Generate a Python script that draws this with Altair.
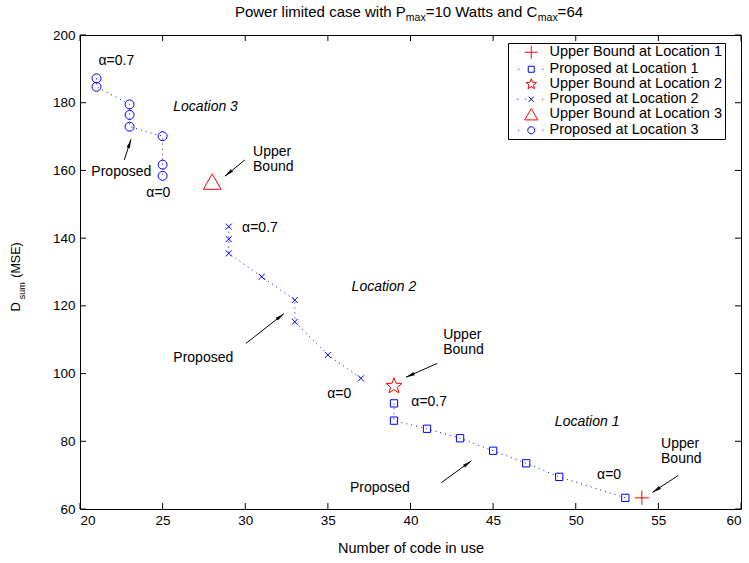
import altair as alt
import pandas as pd
import numpy as np

# ---------------- data ----------------
SERIES = ["Upper Bound at Location 1", "Proposed at Location 1",
          "Upper Bound at Location 2", "Proposed at Location 2",
          "Upper Bound at Location 3", "Proposed at Location 3"]
SERIES_COLORS = ["#ff0000", "#0000ff", "#ff0000", "#0000ff", "#ff0000", "#0000ff"]

ub1_x = [54]
ub1_y = [63.3]
p1_x = [39, 39, 41, 43, 45, 47, 49, 53]
p1_y = [91.2, 86.1, 83.7, 80.9, 77.2, 73.5, 69.5, 63.3]

ub2_x = [39]
ub2_y = [96.3]
p2_x = [29, 29, 29, 31, 33, 33, 35, 37]
p2_y = [143.4, 139.7, 135.5, 128.6, 121.7, 115.3, 105.5, 98.6]

ub3_x = [28]
ub3_y = [156.7]
p3_x = [21, 21, 23, 23, 23, 25, 25, 25]
p3_y = [187.2, 184.7, 179.5, 176.4, 172.9, 170.1, 161.7, 158.4]

x_ticks = [20, 25, 30, 35, 40, 45, 50, 55, 60]
y_ticks = [60, 80, 100, 120, 140, 160, 180, 200]

# annotations
note_text = ["α=0.7", "α=0", "Proposed", "α=0.7", "α=0", "Proposed", "α=0.7", "α=0", "Proposed"]
note_x = [22.2, 24.74, 22.5, 30.89, 35.69, 27.46, 41.13, 52.02, 38.15]
note_y = [192.4, 153.4, 159.6, 143.1, 93.9, 104.7, 91.7, 70.0, 66.1]

loc_text = ["Location 1", "Location 2", "Location 3"]
loc_x = [50.69, 38.39, 27.6]
loc_y = [85.8, 125.5, 178.8]

ub_text = ["Upper\nBound", "Upper\nBound", "Upper\nBound"]
ub_tx = [55.16, 41.98, 30.47]
ub_ty = [81.2, 113.5, 167.4]

arr_x0 = [22.68, 29.98, 30.04, 41.62, 41.87, 56.2]
arr_y0 = [163.1, 163.1, 108.9, 103.0, 67.8, 69.9]
arr_x1 = [23.09, 28.77, 32.34, 39.72, 43.68, 54.64]
arr_y1 = [169.2, 158.3, 117.7, 98.9, 74.2, 64.9]

# ---------------- layout ----------------
W, H = 661, 474
XD, YD = [20, 60], [60, 200]
FONT = "Liberation Sans"


def X(f):
    return alt.X(f"{f}:Q", scale=alt.Scale(domain=XD, nice=False, zero=False),
                 axis=alt.Axis(values=x_ticks, title="Number of code in use"))


def Y(f):
    return alt.Y(f"{f}:Q", scale=alt.Scale(domain=YD, nice=False, zero=False),
                 axis=alt.Axis(values=y_ticks, title=None))


def circ(r):
    return f"M{r},0A{r},{r},0,1,1,{-r},0A{r},{r},0,1,1,{r},0Z"


def star(R, r):
    pts = []
    for k in range(10):
        a = np.deg2rad(-90 + 36 * k)
        rad = R if k % 2 == 0 else r
        pts.append(f"{rad*np.cos(a):.3f},{rad*np.sin(a):.3f}")
    return "M" + "L".join(pts) + "Z"


def dots(positions):
    return "".join(f"M{p:.2f},0L{p+0.15:.2f},0" for p in positions)


PLUS = "M-1,0L1,0M0,-1L0,1"
XMARK = "M-1,-1L1,1M-1,1L1,-1"
TRI = "M0,-0.87L1,0.87L-1,0.87Z"

# legend shapes (fixed legend symbol size 169 -> 13 px box, unit = 6.5 px)
u = 6.5
LEG_SHAPES = [
    PLUS,
    f"M{-3/u:.3f},{-3/u:.3f}L{3/u:.3f},{-3/u:.3f}L{3/u:.3f},{3/u:.3f}L{-3/u:.3f},{3/u:.3f}Z" + dots([-13/u, 11/u]),
    star(0.85, 0.36),
    f"M{-2.5/u:.3f},{-2.5/u:.3f}L{2.5/u:.3f},{2.5/u:.3f}M{-2.5/u:.3f},{2.5/u:.3f}L{2.5/u:.3f},{-2.5/u:.3f}" + dots([-14/u, -6/u, 11/u]),
    "M0,-0.87L1,0.87L-1,0.87Z",
    circ(round(3.5/u, 3)) + dots([-13/u, 11/u]),
]


def marker(xs, ys, shape, color, size):
    df = pd.DataFrame({"x": xs, "y": ys})
    return alt.Chart(df).mark_point(filled=False, strokeWidth=1, opacity=1).encode(
        x=X("x"), y=Y("y"), shape=alt.value(shape), color=alt.value(color), size=alt.value(size))


def dotted(xs, ys):
    df = pd.DataFrame({"x": xs, "y": ys, "o": list(range(len(xs)))})
    return alt.Chart(df).mark_line(color="#0000ff", strokeWidth=1, strokeDash=[1, 4]).encode(
        x=X("x"), y=Y("y"), order="o:Q")


layers = []
# inner ticks
tx = pd.DataFrame({"v": x_ticks})
ty = pd.DataFrame({"v": y_ticks})
layers.append(alt.Chart(tx).mark_rule(color="black").encode(x=X("v"), y=alt.value(H), y2=alt.value(H - 6)))
layers.append(alt.Chart(tx).mark_rule(color="black").encode(x=X("v"), y=alt.value(0), y2=alt.value(6)))
layers.append(alt.Chart(ty).mark_rule(color="black").encode(y=Y("v"), x=alt.value(0), x2=alt.value(6)))
layers.append(alt.Chart(ty).mark_rule(color="black").encode(y=Y("v"), x=alt.value(W), x2=alt.value(W - 6)))

# dotted lines
layers += [dotted(p1_x, p1_y), dotted(p2_x, p2_y), dotted(p3_x, p3_y)]

# markers
layers += [
    marker(ub1_x, ub1_y, PLUS, "#ff0000", 200),
    marker(p1_x, p1_y, "square", "#0000ff", 53),
    marker(ub2_x, ub2_y, star(1, 0.42), "#ff0000", 280),
    marker(p2_x, p2_y, XMARK, "#0000ff", 36),
    marker(ub3_x, ub3_y, TRI, "#ff0000", 313),
    marker(p3_x, p3_y, "circle", "#0000ff", 80),
]

# legend layer (no marks drawn)
leg = alt.Legend(title=None, orient="none", legendX=428, legendY=8,
                 labelFont=FONT, labelFontSize=14.5, labelColor="black", labelLimit=300,
                 padding=2, rowPadding=0, symbolOffset=14, labelOffset=11,
                 strokeColor="black", fillColor="white", cornerRadius=0,
                 symbolStrokeWidth=1, symbolSize=169)
layers.append(
    alt.Chart(pd.DataFrame({"series": SERIES})).mark_point(filled=False, opacity=1, strokeWidth=1)
    .encode(color=alt.Color("series:N", scale=alt.Scale(domain=SERIES, range=SERIES_COLORS), legend=leg),
            shape=alt.Shape("series:N", scale=alt.Scale(domain=SERIES, range=LEG_SHAPES), legend=leg))
    .transform_filter("false")
)

# arrows
sx, sy = W / (XD[1] - XD[0]), H / (YD[1] - YD[0])
a = pd.DataFrame({"x0": arr_x0, "y0": arr_y0, "x1": arr_x1, "y1": arr_y1})
dxp = (a.x1 - a.x0) * sx
dyp = -(a.y1 - a.y0) * sy
L = np.sqrt(dxp**2 + dyp**2)
ux, uy = dxp / L, dyp / L
a["ang"] = np.mod(np.rad2deg(np.arctan2(dxp, -dyp)), 360)
a["hx"] = a.x1 - 4.5 * ux / sx
a["hy"] = a.y1 + 4.5 * uy / sy
layers.append(alt.Chart(a).mark_rule(color="black", strokeWidth=1).encode(
    x=X("x0"), y=Y("y0"), x2="x1:Q", y2="y1:Q"))
layers.append(alt.Chart(a).mark_point(filled=True, color="black", opacity=1, size=81,
                                      shape="M0,-1L0.38,1L-0.38,1Z").encode(
    x=X("hx"), y=Y("hy"), angle=alt.Angle("ang:Q", scale=None)))

# text annotations
nt = pd.DataFrame({"t": note_text, "x": note_x, "y": note_y})
layers.append(alt.Chart(nt).mark_text(font=FONT, fontSize=14, color="black", align="center", baseline="middle")
              .encode(x=X("x"), y=Y("y"), text="t:N"))
lt = pd.DataFrame({"t": loc_text, "x": loc_x, "y": loc_y})
layers.append(alt.Chart(lt).mark_text(font=FONT, fontSize=14, fontStyle="italic", color="black",
                                      align="center", baseline="middle")
              .encode(x=X("x"), y=Y("y"), text="t:N"))
ut = pd.DataFrame({"t": ub_text, "x": ub_tx, "y": ub_ty})
layers.append(alt.Chart(ut).mark_text(font=FONT, fontSize=14, color="black", align="left", baseline="top",
                                      lineBreak="\n", lineHeight=15)
              .encode(x=X("x"), y=Y("y"), text="t:N"))

# title with subscripts
AW = {' ': 278, 'P': 667, 'o': 556, 'w': 722, 'e': 556, 'r': 333, 'l': 222, 'i': 222, 'm': 833,
      't': 278, 'd': 556, 'c': 500, 'a': 556, 's': 500, 'h': 556, '=': 584, '1': 556, '0': 556,
      'W': 944, 'n': 556, 'C': 722, '6': 556, '4': 556, 'x': 500}


def tw(s, f):
    return sum(AW[c] for c in s) * f / 1000


FT, FS = 15, 10.5
pieces = [("Power limited case with P", FT), ("max", FS), ("=10 Watts and C", FT), ("max", FS), ("=64", FT)]
total = sum(tw(s, f) for s, f in pieces)
cx = 409 - 80
xpos = cx - total / 2
for s, f in pieces:
    yb = -18 if f == FT else -14
    layers.append(alt.Chart(pd.DataFrame({"t": [s]})).mark_text(
        font=FONT, fontSize=f, color="black", align="left", baseline="alphabetic").encode(
        x=alt.value(xpos), y=alt.value(yb), text="t:N"))
    xpos += tw(s, f)

# y-axis title with subscript (rotated)
for s, f, px, py in [("D", 13, -64.3, 271.7), ("sum", 9, -58.3, 255.7), ("(MSE)", 12.5, -64.3, 225)]:
    layers.append(alt.Chart(pd.DataFrame({"t": [s]})).mark_text(
        font=FONT, fontSize=f, color="black", align="center", baseline="middle", angle=270).encode(
        x=alt.value(px), y=alt.value(py), text="t:N"))

chart = alt.layer(*layers).properties(
    width=W, height=H,
    autosize=alt.AutoSizeParams(type="none"),
    padding={"left": 80, "top": 35, "right": 8, "bottom": 54},
).configure_view(stroke="black", strokeWidth=1).configure_axis(
    domain=False, ticks=False, grid=False, labelFont=FONT, labelFontSize=13.5, labelColor="black",
    titleFont=FONT, titleFontSize=14.5, titleFontWeight="normal", titleColor="black",
).configure_axisX(labelPadding=4, titlePadding=15).configure_axisY(labelPadding=5)

chart.save("out.html", embed_options={"renderer": "svg", "actions": False})
